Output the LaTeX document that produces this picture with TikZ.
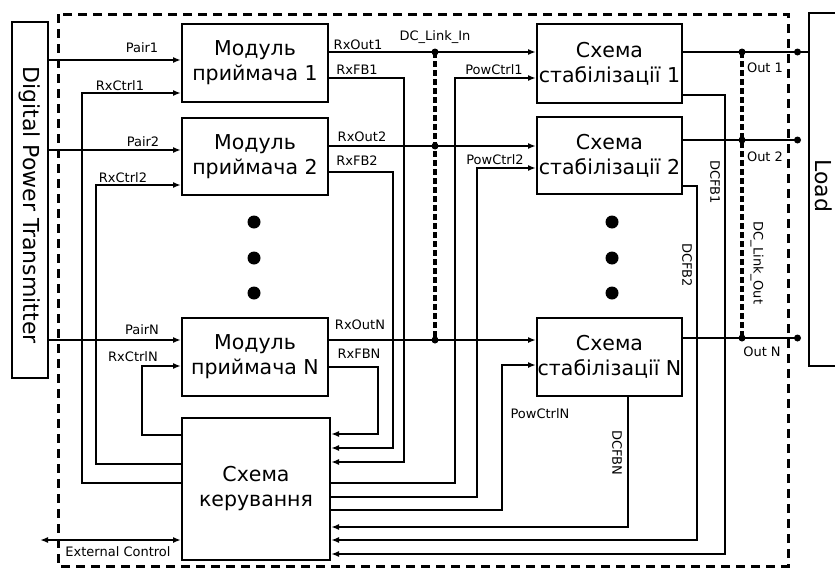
\documentclass[tikz,border=0pt]{standalone}
\usepackage{fontspec}
\setmainfont{DejaVu Sans}
\usetikzlibrary{arrows.meta}

\begin{document}
\begin{tikzpicture}[x=1pt,y=-1pt,
  blk/.style={draw, line width=2pt, inner sep=0pt, align=center,
    font=\fontsize{20.5}{25}\selectfont},
  big/.style={font=\fontsize{22}{26}\selectfont, rotate=-90},
  lbl/.style={font=\fontsize{13}{15}\selectfont, inner sep=0pt},
  vlbl/.style={lbl, rotate=-90},
  sig/.style={line width=1.8pt},
  arr/.style={sig, -{Latex[length=8pt,width=6pt]}},
  bus/.style={line width=3.4pt, dash pattern=on 6pt off 3pt},
  frame/.style={line width=3pt, dash pattern=on 9pt off 6pt},
  jdot/.style={fill=black}]
 \useasboundingbox (0,0) rectangle (835,570);

 % frame
  \coordinate (fA) at (58,14);
  \coordinate (fB) at (788,566);
 \draw[frame] (fA) rectangle (fB);

 % transmitter, load
 \node[blk, minimum width=36pt, minimum height=356pt] (tx) at (30,200) {};
 \node[big] (txt) at (30,205) {Digital Power Transmitter};
 \node[blk, minimum width=36pt, minimum height=353pt] (load) at (827,189.5) {};
 \node[big] (loadt) at (824,186) {Load};

 % receiver modules, control
 \node[blk, minimum width=146pt, minimum height=78pt] (m1) at (255,63) {Модуль\\приймача 1};
 \node[blk, minimum width=146pt, minimum height=77pt] (m2) at (255,156.5) {Модуль\\приймача 2};
 \node[blk, minimum width=146pt, minimum height=78pt] (mN) at (255,357) {Модуль\\приймача N};
 \node[blk, minimum width=148pt, minimum height=142pt] (ctl) at (256,489) {Схема\\керування};

 % stabilisers
 \node[blk, minimum width=145pt, minimum height=79pt] (s1) at (609.5,63.5) {Схема\\стабілізації 1};
 \node[blk, minimum width=145pt, minimum height=77pt] (s2) at (609.5,155.5) {Схема\\стабілізації 2};
 \node[blk, minimum width=145pt, minimum height=78pt] (sN) at (609.5,357) {Схема\\стабілізації N};

 % ellipsis dots
 \foreach \yy in {222,258,293} {
  \fill (254,\yy) circle (6.5pt);
  \fill (612,\yy) circle (6.5pt);
 }

 % pairs
 \foreach \n/\yy/\lx/\ly in {1/60/142/48, 2/150/143/142, N/340/142/330} {
  \coordinate (pr\n) at (48,\yy);
  \draw[arr] (pr\n) -- (pr\n -| m\n.west);
  \node[lbl] (lpr\n) at (\lx,\ly) {Pair\n};
 }

 % RxCtrl
 \foreach \n/\xx/\yt/\yb/\lx/\ly in {1/82/93/483/120/86, 2/96/185/464/123/178, N/142/366/435/133/357} {
  \coordinate (rct\n) at (\xx,\yt);
  \coordinate (rcb\n) at (\xx,\yb);
  \draw[arr] (rcb\n -| ctl.west) -- (rcb\n) -- (rct\n) -- (rct\n -| m\n.west);
  \node[lbl] (lrc\n) at (\lx,\ly) {RxCtrl\n};
 }

 % RxOut, DC link in
 \foreach \n/\yy/\lx/\ly in {1/52/358/45, 2/146/362/137, N/340/360/325} {
  \coordinate (ro\n) at (435,\yy);
  \draw[arr] (ro\n -| m\n.east) -- (ro\n -| s\n.west);
  \fill[jdot] (ro\n) circle (3.5pt);
  \node[lbl] (lro\n) at (\lx,\ly) {RxOut\n};
 }
 \draw[bus] (ro1) -- (roN);
 \node[lbl] (ldcin) at (435,37) {DC\_Link\_In};

 % RxFB
 \foreach \n/\xx/\yt/\yb/\lx/\ly in {1/404/78/462/357/70, 2/393/172/448/357/161, N/378/367/434/359/354} {
  \coordinate (fbt\n) at (\xx,\yt);
  \coordinate (fbb\n) at (\xx,\yb);
  \draw[arr] (fbt\n -| m\n.east) -- (fbt\n) -- (fbb\n) -- (fbb\n -| ctl.east);
  \node[lbl] (lfb\n) at (\lx,\ly) {RxFB\n};
 }

 % PowCtrl
 \foreach \n/\xx/\yt/\yb/\lx/\ly in {1/455/78/483/494/70, 2/477/168/497/495/160, N/502/365/510/540/414} {
  \coordinate (pct\n) at (\xx,\yt);
  \coordinate (pcb\n) at (\xx,\yb);
  \draw[arr] (pcb\n -| ctl.east) -- (pcb\n) -- (pct\n) -- (pct\n -| s\n.west);
  \node[lbl] (lpc\n) at (\lx,\ly) {PowCtrl\n};
 }

 % outputs, DC link out
 \foreach \n/\yy/\lx/\ly in {1/52/765/68, 2/140/765/157, N/338/762/352} {
  \coordinate (oa\n) at (742,\yy);
  \coordinate (ob\n) at (797.5,\yy);
  \draw[sig] (oa\n -| s\n.east) -- (ob\n);
  \fill[jdot] (oa\n) circle (3.5pt);
  \fill[jdot] (ob\n) circle (3.5pt);
  \node[lbl] (lout\n) at (\lx,\ly) {Out \n};
 }
 \draw[sig] (ob1) -- (ob1 -| load.west);
 \draw[bus] (oa1) -- (oaN);
 \node[vlbl] (ldcout) at (757,263) {DC\_Link\_Out};

 % DCFB
  \coordinate (dc1t) at (725,95);
  \coordinate (dc1b) at (725,554);
  \coordinate (dc2t) at (697,186);
  \coordinate (dc2b) at (697,540);
  \coordinate (dcNb) at (628,527);
 \draw[arr] (dc1t -| s1.east) -- (dc1t) -- (dc1b) -- (dc1b -| ctl.east);
 \draw[arr] (dc2t -| s2.east) -- (dc2t) -- (dc2b) -- (dc2b -| ctl.east);
 \draw[arr] (dcNb |- sN.south) -- (dcNb) -- (dcNb -| ctl.east);
 \node[vlbl] (ldc1) at (715,182) {DCFB1};
 \node[vlbl] (ldc2) at (687,265) {DCFB2};
 \node[vlbl] (ldcN) at (617,453) {DCFBN};

 % external control
  \coordinate (ext) at (40,540);
 \draw[sig, {Latex[length=8pt,width=6pt]}-{Latex[length=8pt,width=6pt]}] (ext) -- (ext -| ctl.west);
 \node[lbl] (lext) at (118,552) {External Control};
\end{tikzpicture}
\end{document}
